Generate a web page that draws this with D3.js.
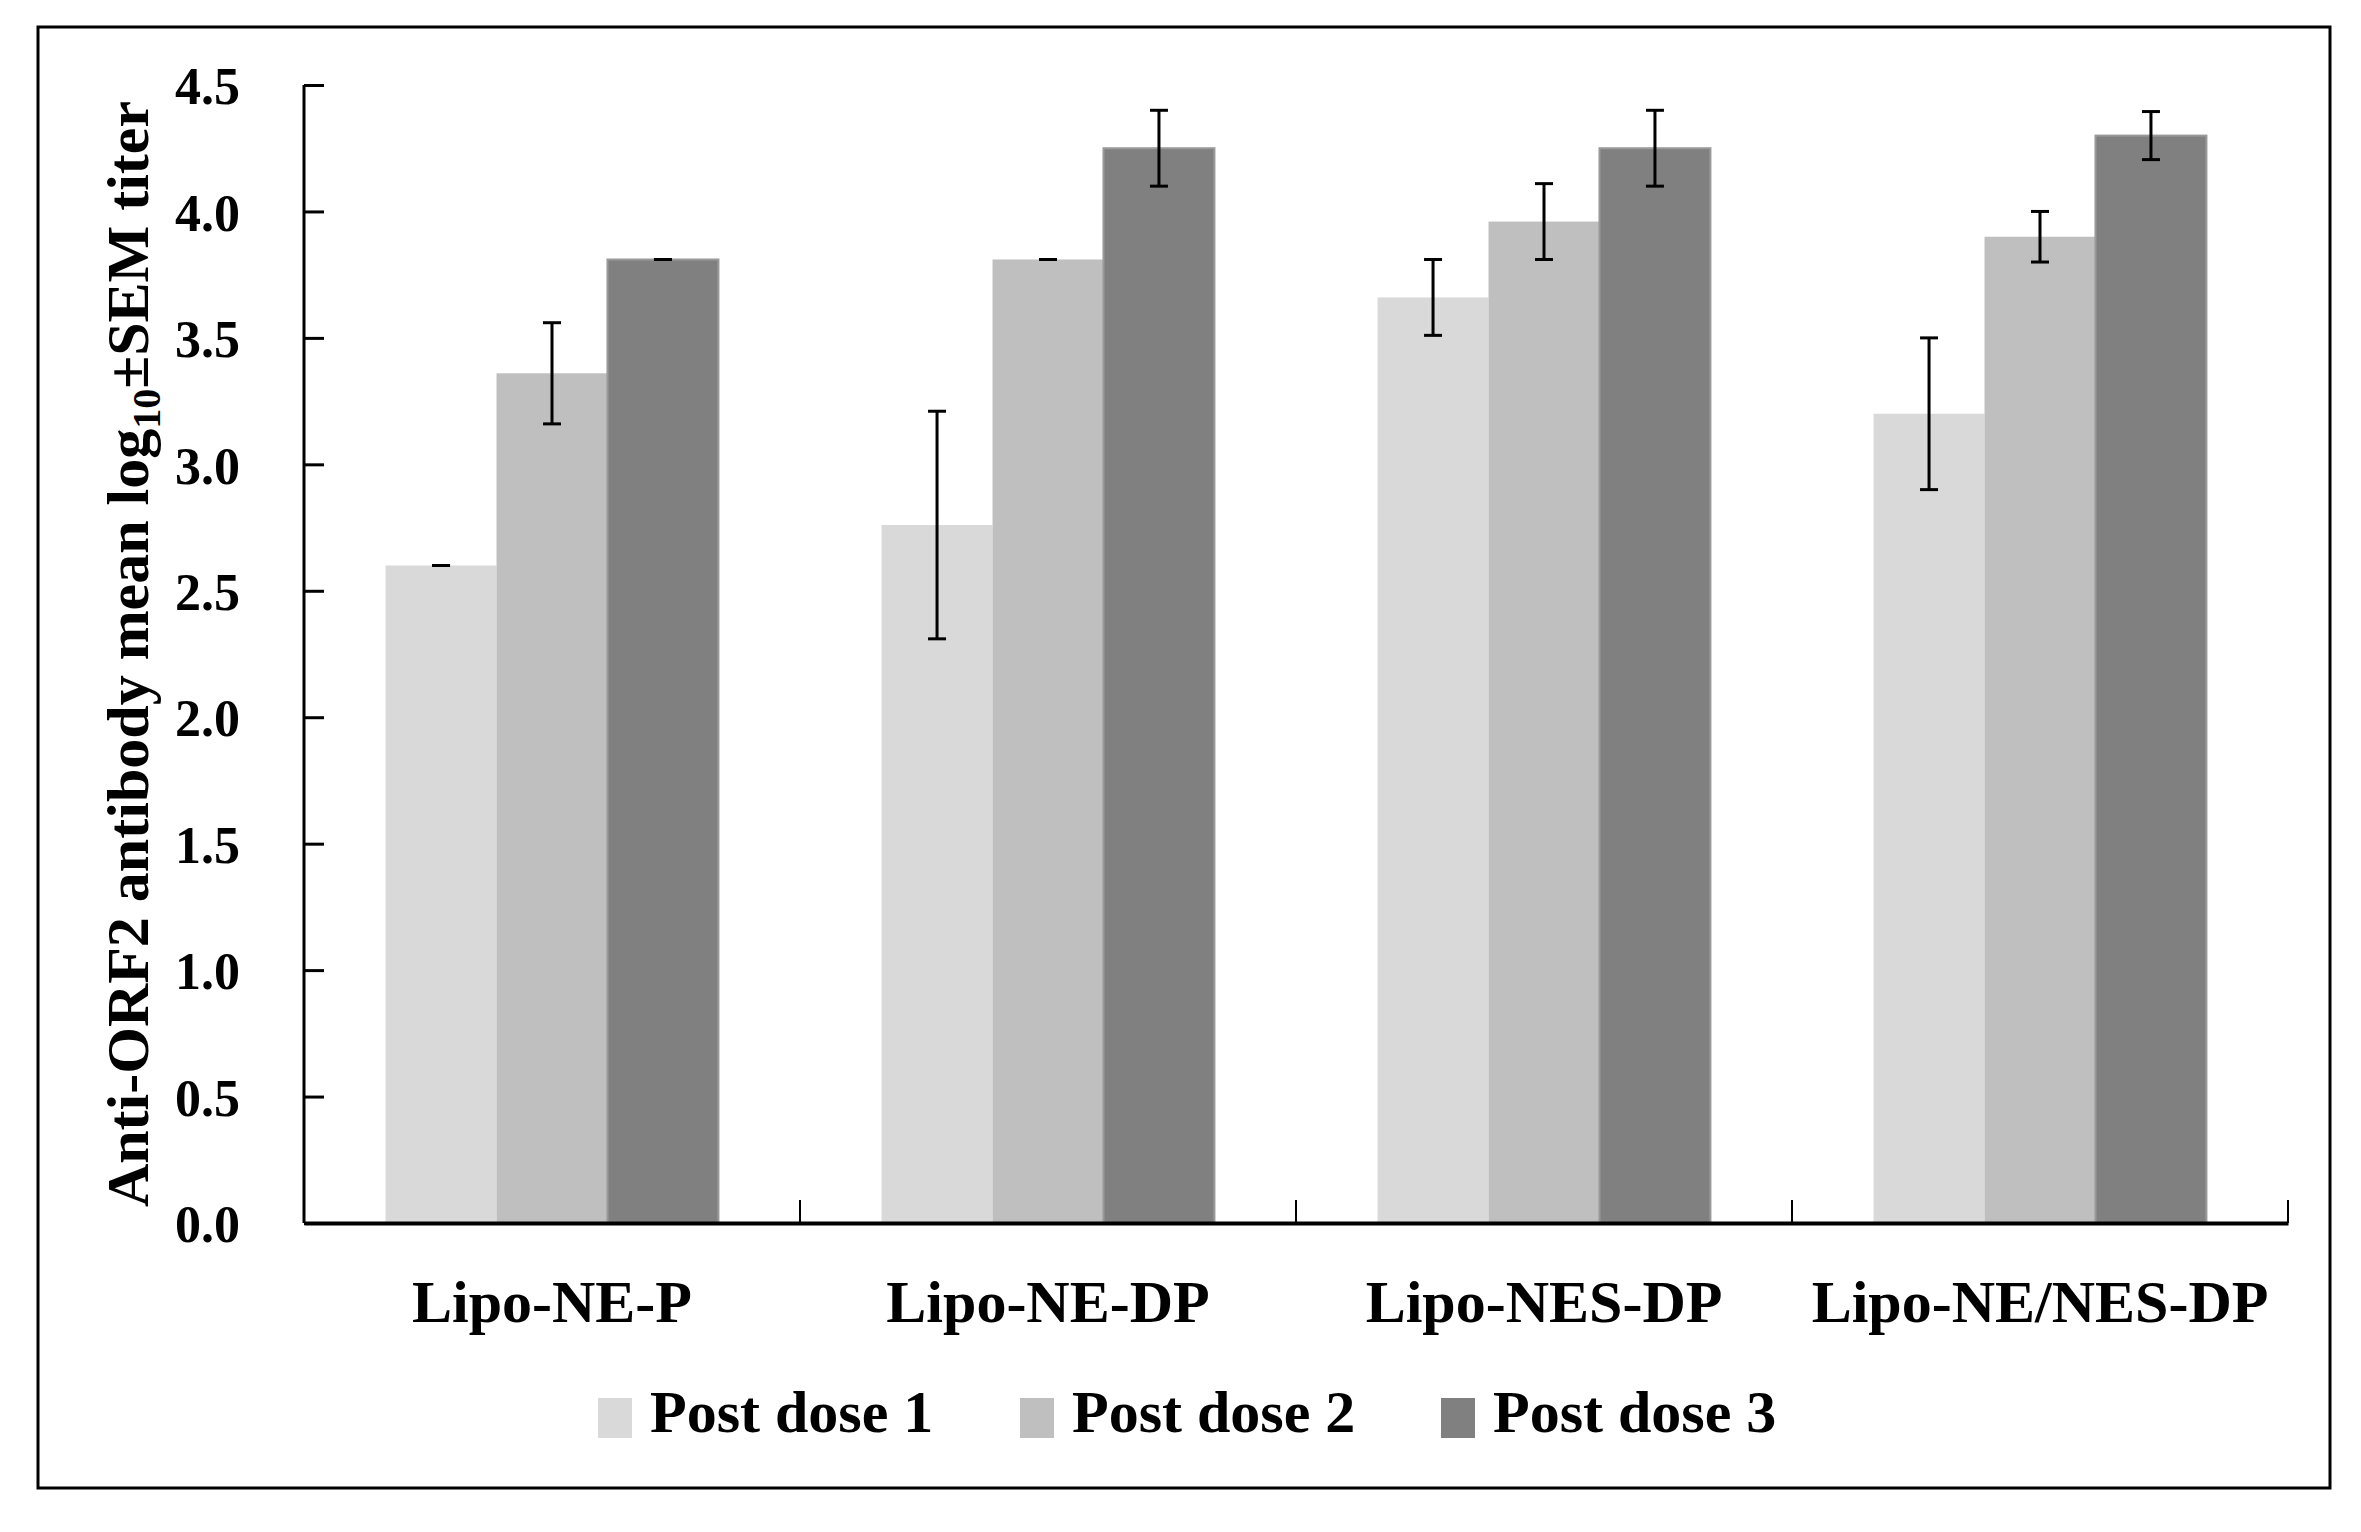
<!DOCTYPE html>
<html>
<head>
<meta charset="utf-8">
<script src="https://cdn.jsdelivr.net/npm/d3@7"></script>
<style>
body{margin:0;background:#fff;}
text{font-family:"Liberation Serif","Times New Roman",serif;font-weight:bold;fill:#000;}
</style>
</head>
<body>
<script>
// data
var groups = ["Lipo-NE-P","Lipo-NE-DP","Lipo-NES-DP","Lipo-NE/NES-DP"];
var series = ["Post dose 1","Post dose 2","Post dose 3"];
var dose1 = [2.60, 2.76, 3.66, 3.20];
var dose2 = [3.36, 3.81, 3.96, 3.90];
var dose3 = [3.81, 4.25, 4.25, 4.30];
var err1 = [0.00, 0.45, 0.15, 0.30];
var err2 = [0.20, 0.00, 0.15, 0.10];
var err3 = [0.00, 0.15, 0.15, 0.095];
var yTicks = [0,0.5,1,1.5,2,2.5,3,3.5,4,4.5];
var colors = ["#d9d9d9","#bfbfbf","#808080"];

var svgwidth = 2361, svgheight = 1532;
var plot = {left:304, right:2288, top:85, bottom:1223};

var svg = d3.select("body").append("svg")
	.attr("width",svgwidth)
	.attr("height",svgheight);

// outer frame
svg.append("rect")
	.attr("x",38).attr("y",27)
	.attr("width",2330-38).attr("height",1488-27)
	.attr("fill","none").attr("stroke","#000").attr("stroke-width",3);

var x0 = d3.scaleBand().domain(groups).range([plot.left,plot.right]).paddingInner(0).paddingOuter(0);
var x1 = d3.scaleBand().domain(series).range([0,x0.bandwidth()]).paddingInner(0).paddingOuter(0.735);
var y = d3.scaleLinear().domain([0,4.5]).range([plot.bottom,plot.top]);

var vals = [dose1,dose2,dose3];
var errs = [err1,err2,err3];
var rows = [];
for(var i=0;i<groups.length;i++)
{
	for(var j=0;j<series.length;j++)
	{
		rows.push({g:groups[i],s:series[j],k:j,v:vals[j][i],e:errs[j][i]});
	}
}

// bars
svg.append("g").selectAll("rect").data(rows).enter().append("rect")
	.attr("x",function(d){return x0(d.g)+x1(d.s);})
	.attr("y",function(d){return y(d.v);})
	.attr("width",x1.bandwidth())
	.attr("height",function(d){return y(0)-y(d.v);})
	.attr("fill",function(d){return colors[d.k];})
	.attr("stroke",function(d){return d.k==2?"#9a9a9a":"none";})
	.attr("stroke-width",2);

// error bars
var eb = svg.append("g").attr("stroke","#000").attr("stroke-width",3);
rows.forEach(function(d){
	var cx = x0(d.g)+x1(d.s)+x1.bandwidth()/2;
	var hi = y(d.v+d.e), lo = y(d.v-d.e);
	eb.append("line").attr("x1",cx).attr("x2",cx).attr("y1",hi).attr("y2",lo);
	eb.append("line").attr("x1",cx-9).attr("x2",cx+9).attr("y1",hi).attr("y2",hi);
	eb.append("line").attr("x1",cx-9).attr("x2",cx+9).attr("y1",lo).attr("y2",lo);
});

// y axis
var yAxis = svg.append("g")
	.attr("transform","translate("+plot.left+",0)")
	.call(d3.axisLeft(y).tickValues(yTicks).tickFormat(d3.format(".1f")).tickSize(-20).tickPadding(64));
yAxis.select(".domain").attr("stroke-width",3).attr("d","M0,"+plot.top+"V"+plot.bottom);
yAxis.selectAll(".tick line").attr("stroke-width",3);
yAxis.selectAll("text").style("font-size","52px").attr("dy","0.36em");

// x axis
var xAxis = svg.append("g")
	.attr("transform","translate(0,"+plot.bottom+")")
	.call(d3.axisBottom(x0).tickSize(0).tickPadding(56));
xAxis.select(".domain").attr("stroke-width",4);
xAxis.selectAll("text").style("font-size","60px");

// group divider ticks
svg.append("g").selectAll("line").data(groups).enter().append("line")
	.attr("x1",function(d){return x0(d)+x0.bandwidth();})
	.attr("x2",function(d){return x0(d)+x0.bandwidth();})
	.attr("y1",plot.bottom).attr("y2",plot.bottom-23)
	.attr("stroke","#000").attr("stroke-width",2);

// y title
var yt = svg.append("text")
	.attr("transform","translate(148,"+((plot.top+plot.bottom)/2)+") rotate(-90)")
	.attr("text-anchor","middle")
	.style("font-size","60px");
yt.append("tspan").text("Anti-ORF2 antibody mean log");
yt.append("tspan").text("10").style("font-size","40px").attr("dy",12);
yt.append("tspan").text("\u00b1SEM titer").attr("dy",-12);

// legend
var legX = [598,1020,1441];
var leg = svg.append("g").selectAll("g").data(series).enter().append("g")
	.attr("transform",function(d,i){return "translate("+legX[i]+",1398)";});
leg.append("rect").attr("width",34).attr("height",40)
	.attr("fill",function(d,i){return colors[i];});
leg.append("text").attr("x",52).attr("y",34)
	.style("font-size","60px")
	.text(function(d){return d;});
</script>
</body>
</html>
